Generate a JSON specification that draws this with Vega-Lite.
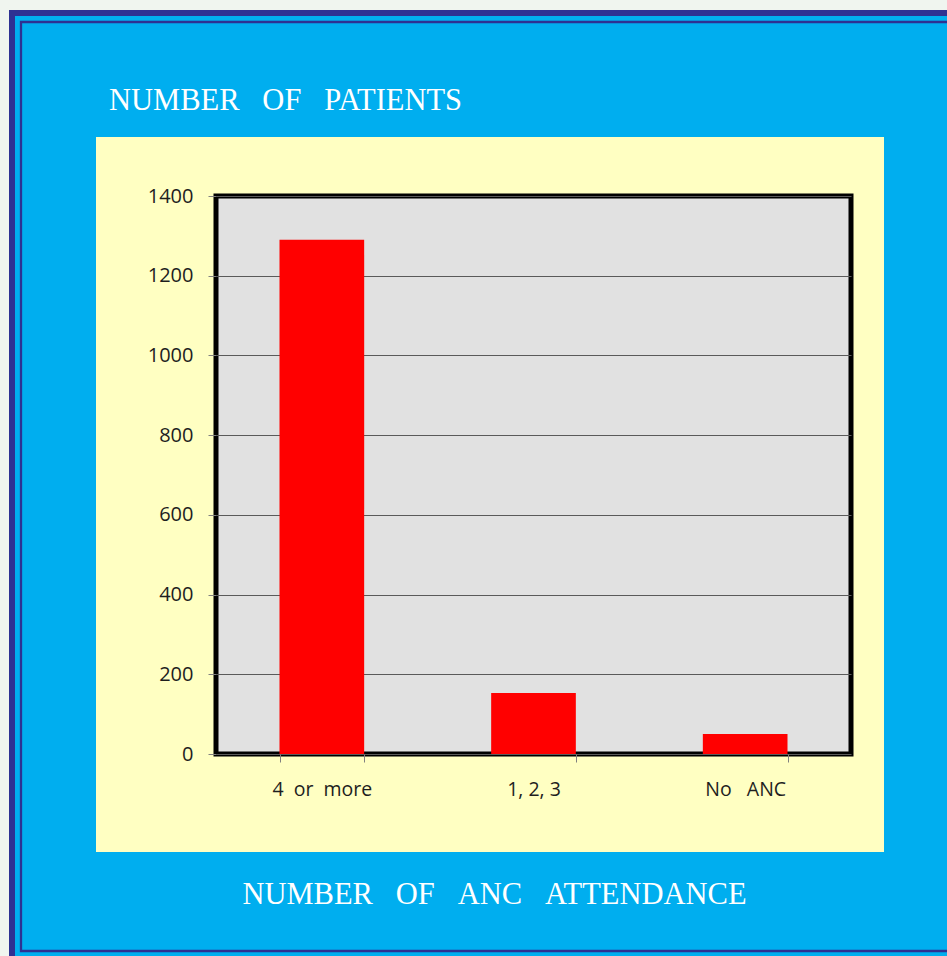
{
  "$schema": "https://vega.github.io/schema/vega-lite/v6.json",
  "width": 635,
  "height": 558,
  "autosize": "none",
  "padding": {"left": 216, "top": 196, "right": 96, "bottom": 202},
  "background": "#FFFFC2",
  "title": {
    "text": "NUMBER\u00a0 \u00a0OF\u00a0 \u00a0PATIENTS",
    "orient": "top",
    "anchor": "start",
    "frame": "group",
    "offset": -303,
    "baseline": "alphabetic",
    "dx": -107,
    "font": "Liberation Serif",
    "fontSize": 30.5,
    "fontWeight": "normal",
    "color": "#FFFFFF"
  },
  "config": {
    "view": {"fill": "#E1E1E1", "stroke": "#000000", "strokeWidth": 5}
  },
  "layer": [
    {
      "description": "blue surround between the yellow panel and the page edge",
      "data": {"values": [{}]},
      "mark": {"type": "rect", "filled": false, "stroke": "#00AEEF", "strokeWidth": 300, "strokeJoin": "miter"},
      "encoding": {
        "x": {"value": -270}, "x2": {"value": 818},
        "y": {"value": -209}, "y2": {"value": 806}
      }
    },
    {
      "description": "page margin outside the frame",
      "data": {"values": [{}]},
      "mark": {"type": "rect", "filled": false, "stroke": "#F0F5EF", "strokeWidth": 40, "strokeJoin": "miter"},
      "encoding": {
        "x": {"value": -227}, "x2": {"value": 2000},
        "y": {"value": -206}, "y2": {"value": 2000}
      }
    },
    {
      "description": "thick outer frame line",
      "data": {"values": [{}]},
      "mark": {"type": "rect", "filled": false, "stroke": "#2E3192", "strokeWidth": 6, "strokeJoin": "miter"},
      "encoding": {
        "x": {"value": -204}, "x2": {"value": 2000},
        "y": {"value": -183}, "y2": {"value": 2000}
      }
    },
    {
      "description": "thin inner frame line",
      "data": {"values": [{}]},
      "mark": {"type": "rect", "filled": false, "stroke": "#2E3192", "strokeWidth": 2.3, "strokeJoin": "miter"},
      "encoding": {
        "x": {"value": -195}, "x2": {"value": 2000},
        "y": {"value": -174}, "y2": {"value": 755}
      }
    },
    {
      "data": {
        "values": [
          {"attendance": "4\u00a0 or\u00a0 more", "patients": 1290},
          {"attendance": "1, 2, 3", "patients": 153},
          {"attendance": "No\u00a0 \u00a0ANC", "patients": 50}
        ]
      },
      "mark": {"type": "bar", "color": "#FF0000"},
      "encoding": {
        "x": {
          "field": "attendance",
          "type": "nominal",
          "sort": null,
          "scale": {"paddingInner": 0.6, "paddingOuter": 0.3},
          "axis": {
            "title": "NUMBER\u00a0 \u00a0OF\u00a0 \u00a0ANC\u00a0 \u00a0ATTENDANCE",
            "titleFont": "Liberation Serif",
            "titleFontSize": 30.5,
            "titleFontWeight": "normal",
            "titleColor": "#FFFFFF",
            "titleX": 278,
            "titleY": 149,
            "titleAlign": "center",
            "titleAnchor": "start",
            "titleBaseline": "alphabetic",
            "labelAngle": 0,
            "labelFont": "Open Sans",
            "labelFontSize": 19.5,
            "labelColor": "#1E1E1E",
            "labelPadding": 18,
            "tickBand": "extent",
            "tickSize": 8,
            "tickColor": "#808080",
            "domain": false,
            "grid": false,
            "zindex": 1
          }
        },
        "y": {
          "field": "patients",
          "type": "quantitative",
          "scale": {"domain": [0, 1400], "nice": false},
          "axis": {
            "title": null,
            "values": [0, 200, 400, 600, 800, 1000, 1200, 1400],
            "format": "d",
            "grid": true,
            "gridColor": "#5A5A5A",
            "gridWidth": 1,
            "domain": false,
            "tickSize": 8,
            "tickColor": "#808080",
            "labelFont": "Open Sans",
            "labelFontSize": 20,
            "labelColor": "#1E1E1E",
            "labelPadding": 15,
            "zindex": 0
          }
        }
      }
    }
  ]
}
